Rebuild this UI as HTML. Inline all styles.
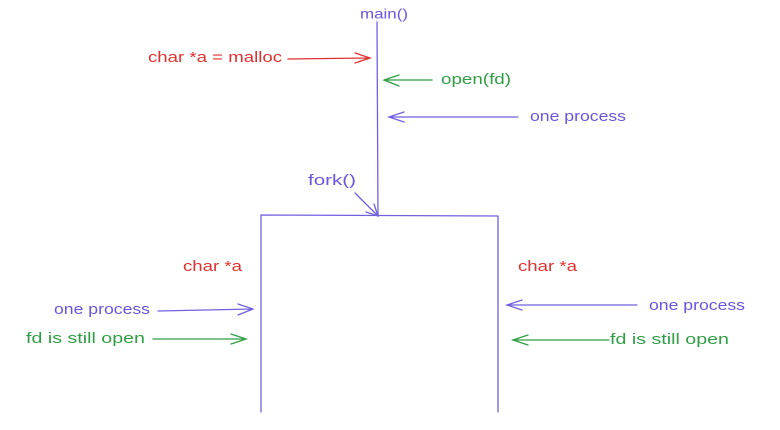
<!DOCTYPE html>
<html><head><meta charset="utf-8"><style>
html,body{margin:0;padding:0;background:#fff;}
svg{display:block;}
text{font-family:"Liberation Sans",sans-serif;font-size:15px;dominant-baseline:middle;}
.p{stroke:#7161e0;fill:none;stroke-width:1.3;stroke-linecap:round;}
.r{stroke:#e03131;fill:none;stroke-width:1.3;stroke-linecap:round;}
.g{stroke:#2f9e44;fill:none;stroke-width:1.3;stroke-linecap:round;}
.tp{fill:#6a55dc;} .tr{fill:#e03131;} .tg{fill:#2f9e44;}
</style></head><body>
<svg width="780" height="430" viewBox="0 0 780 430">
<text class="tp" x="360" y="15" textLength="48" lengthAdjust="spacingAndGlyphs" style="font-size:14px">main()</text>
<path class="p" d="M377 22 L378 216"/>

<text class="tr" x="148" y="58" textLength="134" lengthAdjust="spacingAndGlyphs">char *a = malloc</text>
<g><path class="r" d="M288 59 L370 58 M355 53 L370 58 L355 63"/></g>

<text class="tg" x="441" y="80" textLength="70" lengthAdjust="spacingAndGlyphs">open(fd)</text>
<g><path class="g" d="M432 80 L384 80 M399 75 L384 80 L399 86"/></g>

<text class="tp" x="530" y="117" textLength="96" lengthAdjust="spacingAndGlyphs">one process</text>
<g><path class="p" d="M518 117 L389 117 M404 112 L389 117 L404 122"/></g>

<text class="tp" x="308" y="181" textLength="48" lengthAdjust="spacingAndGlyphs">fork()</text>
<g><path class="p" d="M355 193 L378 216 M366 212 L378 216 L374 204"/></g>

<path class="p" d="M261 215 L498 216 M261 215 L261 412 M498 216 L498 412"/>

<text class="tr" x="183" y="267" textLength="59" lengthAdjust="spacingAndGlyphs">char *a</text>
<text class="tr" x="518" y="267" textLength="59" lengthAdjust="spacingAndGlyphs">char *a</text>

<text class="tp" x="54" y="310" textLength="96" lengthAdjust="spacingAndGlyphs">one process</text>
<g><path class="p" d="M158 311 L253 309 M238 304 L253 309 L238 315"/></g>

<text class="tg" x="26" y="339" textLength="119" lengthAdjust="spacingAndGlyphs">fd is still open</text>
<g><path class="g" d="M153 339 L246 339 M231 334 L246 339 L231 344"/></g>

<text class="tp" x="649" y="306" textLength="96" lengthAdjust="spacingAndGlyphs">one process</text>
<g><path class="p" d="M637 305 L507 305 M522 300 L507 305 L522 310"/></g>

<text class="tg" x="610" y="340" textLength="119" lengthAdjust="spacingAndGlyphs">fd is still open</text>
<g><path class="g" d="M609 340 L513 340 M528 335 L513 340 L528 345"/></g>
</svg>
</body></html>
